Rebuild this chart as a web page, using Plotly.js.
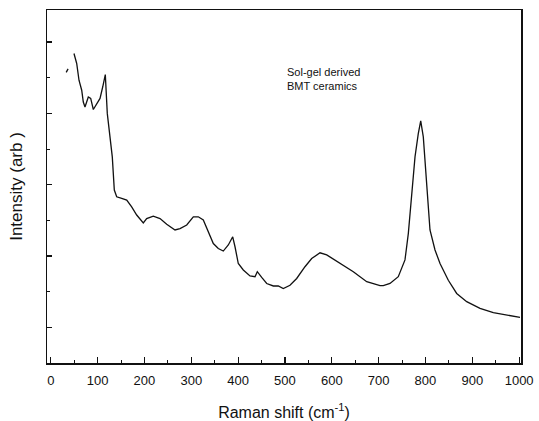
<!DOCTYPE html>
<html>
<head>
<meta charset="utf-8">
<script src="https://cdn.plot.ly/plotly-3.0.1.min.js"></script>
<style>html,body{margin:0;padding:0;background:#fff;}#chart{width:539px;height:421px;}</style>
</head>
<body>
<div id="chart"></div>
<script>
// Raman shift (cm^-1)
var ramanShift = [33, 37, null,
  49.6, 55.4, 60.3, 66.1, 69.5, 73.1, 80.2, 85.3, 90.9, 98.1, 105.2, 110.9, 116.5,
  120.7, 126.5, 131.4, 135.7, 140.8, 151.5, 162.2, 172.8, 183.5, 197.6, 204.8, 218.9,
  233.3, 247.6, 265.3, 276.0, 290.3, 304.4, 315.0, 325.7, 336.4, 347.1, 357.7, 368.4,
  379.1, 388.5, 393.4, 400.4, 411.1, 425.4, 436.1, 441.0, 450.4, 461.1, 475.2, 485.8,
  496.5, 510.8, 525.1, 542.8, 557.1, 574.9, 589.2, 617.6, 646.0, 674.6, 703.0, 710.0,
  724.3, 742.0, 756.3, 763.4, 770.6, 777.7, 784.7, 789.9, 795.4, 802.7, 809.7, 820.4,
  831.1, 848.8, 866.7, 888.1, 916.5, 944.9, 973.5, 1001.9];
// Intensity (arb. units)
var intensity = [8.15, 8.25, null,
  8.68, 8.40, 7.93, 7.65, 7.32, 7.18, 7.46, 7.42, 7.11, 7.28, 7.42, 7.74, 8.09,
  7.00, 6.34, 5.78, 4.85, 4.66, 4.62, 4.57, 4.38, 4.15, 3.93, 4.05, 4.12,
  4.05, 3.89, 3.73, 3.77, 3.87, 4.10, 4.10, 4.01, 3.68, 3.35, 3.21, 3.14,
  3.31, 3.54, 3.26, 2.79, 2.61, 2.44, 2.42, 2.56, 2.40, 2.23, 2.16, 2.16,
  2.09, 2.18, 2.37, 2.70, 2.93, 3.09, 3.03, 2.79, 2.56, 2.28, 2.17, 2.17,
  2.23, 2.42, 2.89, 3.63, 4.75, 5.78, 6.43, 6.79, 6.34, 5.03, 3.73, 3.17,
  2.79, 2.32, 1.95, 1.72, 1.53, 1.41, 1.34, 1.28];
var xTickVals = [0, 100, 200, 300, 400, 500, 600, 700, 800, 900, 1000];
var xTickText = ['0', '100', '200', '300', '400', '500', '600', '700', '800', '900', '1000'];
var noteLines = ['Sol-gel derived', 'BMT ceramics'];

var trace = {
  x: ramanShift, y: intensity, type: 'scatter', mode: 'lines',
  line: {color: '#111', width: 1.3}, connectgaps: false, hoverinfo: 'skip'
};
var font = {family: 'Liberation Sans, Arial, sans-serif', color: '#111'};
var layout = {
  width: 539, height: 421,
  margin: {l: 47, r: 18, t: 10, b: 58},
  paper_bgcolor: '#fff', plot_bgcolor: '#fff',
  showlegend: false,
  font: font,
  xaxis: {
    range: [-8, 1004], showgrid: false, zeroline: false,
    showline: true, mirror: true, linecolor: '#111', linewidth: 1.5,
    ticks: 'inside', ticklen: 6, tickwidth: 1.2, tickcolor: '#111',
    tickvals: xTickVals, ticktext: xTickText,
    ticklabelstandoff: 5,
    tickfont: {family: font.family, size: 13, color: '#111'},
    minor: {ticks: 'inside', ticklen: 3, dtick: 50, tick0: 0, tickcolor: '#111', tickwidth: 1},
    title: {text: 'Raman shift (cm<sup>-1</sup>)', font: {family: font.family, size: 16, color: '#111'}, standoff: 20}
  },
  yaxis: {
    range: [0, 9.9], showgrid: false, zeroline: false,
    showline: true, mirror: true, linecolor: '#111', linewidth: 1.5,
    ticks: 'inside', ticklen: 5, tickwidth: 1.2, tickcolor: '#111',
    tick0: 1, dtick: 2, showticklabels: false,
    minor: {ticks: 'inside', ticklen: 3, dtick: 1, tick0: 0, tickcolor: '#111', tickwidth: 1},
    title: {text: 'Intensity (arb )', font: {family: font.family, size: 17, color: '#111'}, standoff: 18}
  },
  annotations: [{
    xref: 'x', yref: 'y', x: 500, y: 7.96, xanchor: 'left', yanchor: 'middle',
    text: noteLines.join('<br>'), align: 'left', showarrow: false,
    font: {family: font.family, size: 11, color: '#111'}
  }]
};
Plotly.newPlot('chart', [trace], layout, {staticPlot: true, displayModeBar: false});
</script>
</body>
</html>
